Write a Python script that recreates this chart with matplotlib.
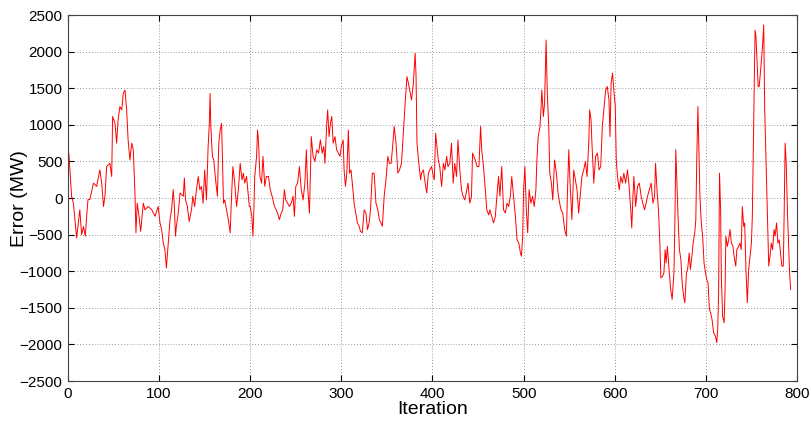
import matplotlib
matplotlib.use('Agg')
import matplotlib.pyplot as plt

# values (iteration, error in MW)
iteration = [
    1, 4, 6, 9.5, 13, 15, 17, 19, 20.5, 22, 24, 28, 31.5, 35, 37, 39, 40.6, 42.4, 46, 48,
    49, 51.6, 53.4, 55, 57, 59, 60.7, 62.6, 64.4, 66, 68, 70, 71.7, 73.5, 74.6, 76, 78, 79.8, 82.7, 84.5,
    88, 92, 95.5, 99, 101, 102.8, 104.6, 106.4, 108, 110, 112, 113.7, 115.5, 116.6, 118, 119, 121, 123, 124.8, 126.6,
    127.7, 129, 131, 133, 135.6, 137, 139, 141, 143, 144.7, 146.5, 148.3, 150, 152, 153.8, 155, 156, 156.7, 158.5, 160,
    162, 164, 165.5, 167, 168.6, 169.6, 170.7, 172, 174, 176, 178, 179.5, 181, 183, 185, 187, 189, 191, 192.5, 194,
    196, 198, 199, 200, 201.8, 203, 204, 205, 207, 208, 209, 210.7, 212.5, 214, 216, 217.7, 220, 222, 224, 226.6,
    228.5, 230, 232, 234, 235.7, 237.5, 239, 241, 243, 245, 247, 248.5, 250, 252, 254, 256, 258, 260, 261.6, 263,
    265, 267, 269, 271, 273, 275, 277, 279, 280.7, 282, 284, 285, 286.5, 288, 289.5, 291, 293, 294.8, 296.7, 298.5,
    300, 302, 303, 304.5, 306, 307.7, 309, 310.6, 312, 314, 315.8, 317.6, 319.5, 321, 323, 325, 327, 328.7, 330.5, 332,
    334, 336, 338, 340, 341.7, 343.5, 345, 347, 349, 351, 352.8, 354.6, 356, 358, 360, 362, 363.8, 366, 368, 370,
    372, 373.6, 375, 377, 379, 381, 382, 383, 385, 387, 388, 390, 392, 393.7, 395.5, 397, 399, 401, 402, 403.5,
    404.6, 406.4, 408, 410, 412, 413.7, 415.5, 417, 419, 420.9, 422.7, 424.5, 426.4, 428, 430, 431.8, 433.6, 435.5, 437, 439,
    441, 442.8, 444, 445.4, 447, 449, 451, 452.8, 454, 456, 458, 459.6, 461.7, 463, 465, 467, 469, 470.7, 472.5, 474,
    476, 478, 480, 481.8, 483.6, 485.5, 487, 489, 491, 492.8, 494.7, 496.5, 497.6, 499, 500, 501.4, 503, 504.5, 506, 508,
    509.8, 511.7, 513.5, 514.6, 516, 518, 519, 520, 521.7, 523, 524.7, 526, 527.6, 528.7, 530.5, 532, 534, 536, 537.8, 539.6,
    541, 543, 545, 547, 548, 549.6, 551, 553, 555, 556.8, 558.6, 560.4, 562, 564, 566, 567.8, 569.6, 571.5, 572.5, 574,
    575, 577, 579, 581, 582.8, 584.6, 586.4, 588, 590, 591.8, 593.7, 594.8, 596, 597.6, 599, 600.6, 601.7, 603, 605, 606.6,
    608.4, 610, 612, 614, 615.8, 617.6, 618.7, 620, 621, 623, 625, 627, 629, 630.9, 632.7, 634.5, 636, 638, 640, 641.9,
    643.7, 644.8, 646.6, 648, 649.5, 650.6, 652.5, 654, 655.3, 656.4, 657.8, 659.6, 661.4, 663, 665, 666, 667, 668, 669.6, 671,
    672.6, 674, 675.6, 677, 678.7, 680, 681.7, 683, 684.7, 686, 687.8, 689, 690, 691.3, 692.4, 693.5, 695, 696.5, 698, 699.6,
    701, 702.4, 703.9, 705.3, 706.8, 708.6, 710.4, 712, 713, 714, 715, 716.2, 717, 718.4, 720, 721, 722, 723.6, 725, 726.6,
    728, 729.7, 731, 732.8, 734, 735.9, 737.4, 738.8, 740, 741.5, 742.6, 744, 745.5, 747, 748.5, 750, 751, 752, 752.9, 754,
    755, 756, 757.4, 758.5, 759.5, 761, 762.4, 763.5, 764.6, 765.7, 766.8, 767.8, 769, 770.4, 771.9, 773.3, 774.8, 776, 777.6, 779,
    780.5, 782, 783.4, 785, 786, 787, 788.2, 789.7, 790.8, 791.9, 793,
]
error_mw = [
    610, 20, -70, -545, -160, -500, -390, -520, -250, -20, -20, 205, 160, 385, 205, -115, 25, 430, 475, 295,
    1115, 1020, 750, 1070, 1250, 1205, 1430, 1475, 1205, 795, 520, 750, 660, 70, -475, -70, -250, -455, -70, -160,
    -115, -160, -250, -115, -340, -430, -615, -705, -955, -615, -295, -160, 115, -70, -520, -385, -205, 70, 45, 25,
    275, -25, -115, -320, -160, 25, -115, 115, 295, 115, 160, -70, 385, -25, 705, 980, 1430, 1000, 570, 520,
    250, 25, 750, 930, 1020, 475, -70, -25, -160, -295, -475, 25, 430, 205, -115, 115, 475, 250, 340, 205,
    295, 25, -115, -115, -250, -520, -160, 295, 570, 930, 795, 295, 205, 570, 160, 295, 295, 115, 25, -115,
    -160, -205, -295, -205, -160, 115, -25, -70, -115, -70, 25, -250, 160, 205, 430, 115, -25, 205, 660, 160,
    -205, 840, 570, 500, 660, 615, 795, 615, 705, 475, 1020, 1205, 840, 1020, 1115, 750, 840, 660, 615, 570,
    705, 795, 385, 160, 340, 930, 340, 385, 205, -70, -205, -340, -385, -455, -475, -160, -205, -430, -340, -160,
    340, 340, -70, -160, -295, -340, -385, 25, 250, 570, 475, 475, 660, 980, 750, 340, 385, 475, 885, 1295,
    1660, 1570, 1475, 1340, 1570, 1980, 1660, 750, 475, 250, 340, 385, 205, 70, 340, 385, 430, 295, 250, 885,
    750, 520, 430, 160, 475, 385, 570, 430, 475, 750, 205, 475, 295, 795, 385, 115, 25, -25, 70, 205,
    -70, 25, 615, 570, 520, 430, 430, 980, 660, 430, 115, -160, -230, -160, -250, -340, -250, 25, 295, 25,
    430, -160, -205, -70, -115, 25, 295, 25, -250, -570, -615, -750, -795, -520, 115, 430, -160, -475, 115, -70,
    25, -115, 115, 520, 840, 980, 1205, 1475, 1115, 1295, 2160, 1430, 980, 340, 205, -25, 520, 340, 70, -70,
    -160, -205, -430, -520, 25, 660, 205, -295, 385, 250, 115, -205, 25, 295, 385, 500, 295, 750, 1205, 1070,
    750, 205, 570, 615, 385, 430, 980, 1205, 1475, 1525, 1340, 840, 1570, 1705, 1475, 1250, 520, 295, 115, 295,
    205, 340, 205, 385, 160, -160, -410, 25, 295, -115, 160, 205, 25, -70, -160, -70, 25, 115, 205, -70,
    25, 475, 70, -160, -600, -1090, -1070, -1020, -705, -885, -660, -975, -1250, -1385, -1020, -340, 660, 295, -295, -705,
    -840, -1160, -1340, -1430, -1020, -975, -750, -975, -795, -615, -475, -295, 520, 1250, 660, 25, -340, -520, -885, -1020,
    -1115, -1160, -1520, -1570, -1660, -1840, -1885, -1975, -1795, -1295, 340, -160, -1070, -1615, -1705, -1295, -520, -660, -570, -430,
    -615, -660, -795, -930, -705, -660, -615, -705, -115, -385, -340, -975, -1430, -975, -795, -615, -250, 615, 1430, 2295,
    2205, 1930, 1525, 1525, 1660, 1885, 2115, 2365, 1205, 660, 70, -430, -930, -795, -615, -705, -430, -520, -340, -615,
    -570, -750, -930, -930, -160, 750, 475, -250, -615, -1020, -1250,
]

x_ticks = list(range(0, 801, 100))
y_ticks = list(range(-2500, 2501, 500))

plt.rcParams['font.family'] = ['Liberation Sans', 'DejaVu Sans']

fig = plt.figure(figsize=(8.12, 4.21), dpi=100)
ax = fig.add_axes([0.0837, 0.095, 0.8978, 0.869])
ax.plot(iteration, error_mw, color='red', linewidth=0.7)

ax.set_xlim(0, 800)
ax.set_ylim(-2500, 2500)
ax.set_xticks(x_ticks)
ax.set_yticks(y_ticks)
ax.tick_params(direction='in', top=True, right=True, labelsize=11, length=4, pad=4)
ax.grid(True, linestyle=(0, (1, 2.5)), color='#777777', linewidth=0.6)
ax.set_xlabel('Iteration', fontsize=14, labelpad=0)
ax.set_ylabel('Error (MW)', fontsize=14)
ax.yaxis.set_label_coords(-0.055, 0.5)
for s in ax.spines.values():
    s.set_color('#444444')

fig.savefig('out.png', dpi=100)
